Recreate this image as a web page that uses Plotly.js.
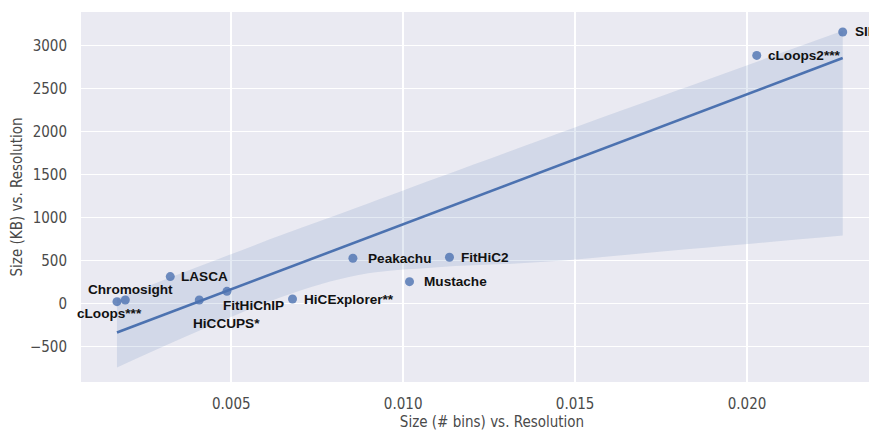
<!DOCTYPE html>
<html>
<head>
<meta charset="utf-8">
<script src="https://cdn.plot.ly/plotly-3.0.1.min.js"></script>
<style>
  html, body { margin: 0; padding: 0; background: #ffffff; overflow: hidden; }
  #chart { width: 903px; height: 432px; }
</style>
</head>
<body>
<div id="chart"></div>
<script>
// Loop-calling tools: output size (# bins) and size (KB), each relative to resolution
const tools = ["cLoops***", "Chromosight", "LASCA", "HiCCUPS*", "FitHiChIP",
               "HiCExplorer**", "Peakachu", "FitHiC2", "Mustache", "cLoops2***", "SIP"];
const sizeBins = [0.001677, 0.001919, 0.003227, 0.004070, 0.004875,
                  0.006782, 0.008538, 0.011346, 0.010184, 0.020282, 0.022782];
const sizeKB = [20, 40, 312, 40, 140, 51, 525, 537, 253, 2883, 3156];

// Confidence band of the fit (lower / upper edge along x)
const bandX = [0.001677, 0.004, 0.0065, 0.0087, 0.011, 0.014, 0.018, 0.022782];
const bandLower = [-745, -330, 80, 330, 420, 480, 620, 790];
const bandUpper = [60, 420, 800, 1120, 1460, 1900, 2480, 3170];

const yTicks = [-500, 0, 500, 1000, 1500, 2000, 2500, 3000];
const xTicks = [0.005, 0.010, 0.015, 0.020];

// label placement (pixel offsets from each point)
const labelOffsets = {
  "cLoops***":     {anchor: "center", dx: -7,  dy: -12},
  "Chromosight":   {anchor: "center", dx: 5,   dy: 10},
  "LASCA":         {anchor: "left",   dx: 9,   dy: 0},
  "HiCCUPS*":      {anchor: "center", dx: 27,  dy: -24},
  "FitHiChIP":     {anchor: "center", dx: 27,  dy: -14},
  "HiCExplorer**": {anchor: "left",   dx: 9,   dy: 0},
  "Peakachu":      {anchor: "left",   dx: 13,  dy: 0},
  "FitHiC2":       {anchor: "left",   dx: 10,  dy: 0},
  "Mustache":      {anchor: "left",   dx: 12,  dy: 0},
  "cLoops2***":    {anchor: "left",   dx: 9,   dy: 0},
  "SIP":           {anchor: "left",   dx: 10,  dy: 0}
};

// ordinary least squares fit
const n = sizeBins.length;
const mx = sizeBins.reduce((a, b) => a + b, 0) / n;
const my = sizeKB.reduce((a, b) => a + b, 0) / n;
let sxy = 0, sxx = 0;
for (let i = 0; i < n; i++) {
  sxy += (sizeBins[i] - mx) * (sizeKB[i] - my);
  sxx += (sizeBins[i] - mx) ** 2;
}
const slope = sxy / sxx;
const intercept = my - slope * mx;
const xMin = Math.min(...sizeBins), xMax = Math.max(...sizeBins);
const fitX = [xMin, xMax];
const fitY = fitX.map(x => intercept + slope * x);

const blue = "#4C72B0";

const traces = [
  {x: bandX, y: bandLower, mode: "lines", line: {width: 0, shape: "spline"},
   hoverinfo: "skip", showlegend: false},
  {x: bandX, y: bandUpper, mode: "lines", line: {width: 0, shape: "spline"},
   fill: "tonexty", fillcolor: "rgba(76,114,176,0.15)", hoverinfo: "skip", showlegend: false},
  {x: fitX, y: fitY, mode: "lines", line: {color: blue, width: 2.6}, showlegend: false},
  {x: sizeBins, y: sizeKB, mode: "markers", text: tools,
   marker: {color: blue, opacity: 0.8, size: 9, line: {width: 0}}, showlegend: false}
];

const annotations = tools.map((t, i) => ({
  x: sizeBins[i], y: sizeKB[i], text: "<b>" + t + "</b>", showarrow: false,
  xanchor: labelOffsets[t].anchor, yanchor: "middle",
  xshift: labelOffsets[t].dx, yshift: labelOffsets[t].dy,
  font: {family: "Liberation Sans, Arial, sans-serif", size: 13.6, color: "#111111"}
}));

const tickFont = {family: "DejaVu Sans Condensed, DejaVu Sans, sans-serif", size: 15, color: "#4a4a4a"};

const layout = {
  width: 903, height: 432,
  margin: {l: 81, r: 0, t: 12, b: 50, pad: 0},
  paper_bgcolor: "#ffffff",
  plot_bgcolor: "#EAEAF2",
  showlegend: false,
  xaxis: {
    range: [0.000631, 0.024535], tickvals: xTicks, tickformat: ".3f",
    showgrid: true, gridcolor: "#ffffff", gridwidth: 1.5, zeroline: false, showline: false,
    ticks: "outside", ticklen: 8, tickcolor: "rgba(0,0,0,0)", tickfont: tickFont,
    automargin: false,
    title: {text: "Size (# bins) vs. Resolution", font: tickFont, standoff: 4}
  },
  yaxis: {
    range: [-914, 3388], tickvals: yTicks,
    showgrid: true, gridcolor: "#ffffff", gridwidth: 1.5, zeroline: false, showline: false,
    ticks: "outside", ticklen: 10, tickcolor: "rgba(0,0,0,0)", tickfont: tickFont,
    automargin: false,
    title: {text: "Size (KB) vs. Resolution", font: tickFont, standoff: 3}
  },
  annotations: annotations
};

Plotly.newPlot("chart", traces, layout, {displayModeBar: false, staticPlot: true});
</script>
</body>
</html>
